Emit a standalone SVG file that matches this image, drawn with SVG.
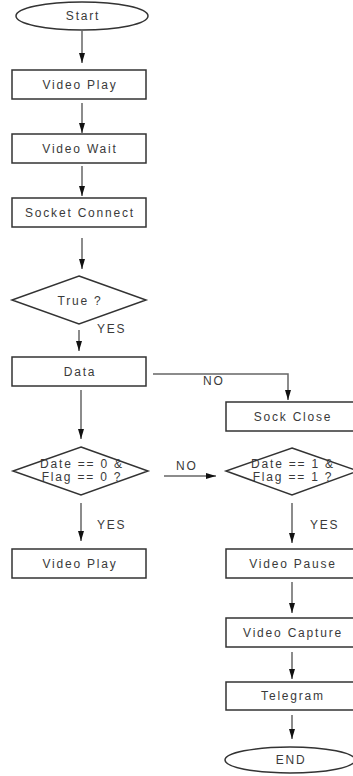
<svg xmlns="http://www.w3.org/2000/svg" width="353" height="776" viewBox="0 0 353 776">
<defs>
<marker id="ah" viewBox="0 0 10 6" refX="10" refY="3" markerWidth="10" markerHeight="6" markerUnits="userSpaceOnUse" orient="auto">
<path d="M0,0 L10,3 L0,6 Z" fill="#111"/>
</marker>
</defs>
<style>
.shape{fill:#fff;stroke:#333;stroke-width:1.5}
.t{font-family:"Liberation Sans",Arial,sans-serif;font-size:12px;letter-spacing:1.8px;fill:#3a3a3a;text-anchor:middle}
.lbl{font-family:"Liberation Sans",Arial,sans-serif;font-size:12px;letter-spacing:1.8px;fill:#3a3a3a}
.c{fill:none;stroke:#666;stroke-width:1.5}
</style>
<rect width="353" height="776" fill="#fff"/>
<g id="connectors">
<line class="c" x1="82" y1="31" x2="82" y2="63" marker-end="url(#ah)"/>
<line class="c" x1="82" y1="103" x2="82" y2="133" marker-end="url(#ah)"/>
<line class="c" x1="82" y1="166" x2="82" y2="196" marker-end="url(#ah)"/>
<line class="c" x1="82" y1="238" x2="82" y2="269" marker-end="url(#ah)"/>
<line class="c" x1="79" y1="330" x2="79" y2="351" marker-end="url(#ah)"/>
<text class="lbl" x="97" y="333">YES</text>
<polyline class="c" points="153,374 288,374 288,400" marker-end="url(#ah)"/>
<text class="lbl" x="203" y="385">NO</text>
<line class="c" x1="81" y1="390" x2="81" y2="439" marker-end="url(#ah)"/>
<line class="c" x1="164" y1="476" x2="216" y2="476" marker-end="url(#ah)"/>
<text class="lbl" x="176" y="470">NO</text>
<line class="c" x1="81" y1="503" x2="81" y2="541" marker-end="url(#ah)"/>
<text class="lbl" x="97" y="529">YES</text>
<line class="c" x1="292" y1="503" x2="292" y2="543" marker-end="url(#ah)"/>
<text class="lbl" x="310" y="529">YES</text>
<line class="c" x1="292" y1="582" x2="292" y2="613" marker-end="url(#ah)"/>
<line class="c" x1="292" y1="652" x2="292" y2="679" marker-end="url(#ah)"/>
<line class="c" x1="292" y1="715" x2="292" y2="739" marker-end="url(#ah)"/>
</g>
<g id="start"><ellipse class="shape" cx="82" cy="16" rx="66" ry="14"/><text class="t" x="83" y="20">Start</text></g>
<g id="video-play-1"><rect class="shape" x="12" y="70" width="134" height="29"/><text class="t" x="80" y="89">Video Play</text></g>
<g id="video-wait"><rect class="shape" x="12" y="134" width="134" height="29"/><text class="t" x="80" y="153">Video Wait</text></g>
<g id="socket-connect"><rect class="shape" x="12" y="198" width="134" height="29"/><text class="t" x="80" y="217">Socket Connect</text></g>
<g id="true-check"><polygon class="shape" points="79,276 146,300 79,324 12,300"/><text class="t" x="80" y="305">True ?</text></g>
<g id="data"><rect class="shape" x="12" y="357" width="134" height="29"/><text class="t" x="80" y="376">Data</text></g>
<g id="sock-close"><rect class="shape" x="226" y="402" width="134" height="29"/><text class="t" x="293" y="421">Sock Close</text></g>
<g id="cond-0"><polygon class="shape" points="81,447 148,471 81,495 13,471"/><text class="t" x="82" y="468">Date == 0 &amp;</text><text class="t" x="82" y="481">Flag == 0 ?</text></g>
<g id="cond-1"><polygon class="shape" points="292,448 358,471 292,495 226,471"/><text class="t" x="293" y="468">Date == 1 &amp;</text><text class="t" x="293" y="481">Flag == 1 ?</text></g>
<g id="video-play-2"><rect class="shape" x="12" y="549" width="134" height="29"/><text class="t" x="80" y="568">Video Play</text></g>
<g id="video-pause"><rect class="shape" x="226" y="549" width="134" height="29"/><text class="t" x="293" y="568">Video Pause</text></g>
<g id="video-capture"><rect class="shape" x="226" y="618" width="134" height="29"/><text class="t" x="293" y="637">Video Capture</text></g>
<g id="telegram"><rect class="shape" x="226" y="682" width="134" height="28"/><text class="t" x="293" y="700">Telegram</text></g>
<g id="end"><ellipse class="shape" cx="290" cy="760" rx="65" ry="13"/><text class="t" x="291" y="764">END</text></g>
</svg>
